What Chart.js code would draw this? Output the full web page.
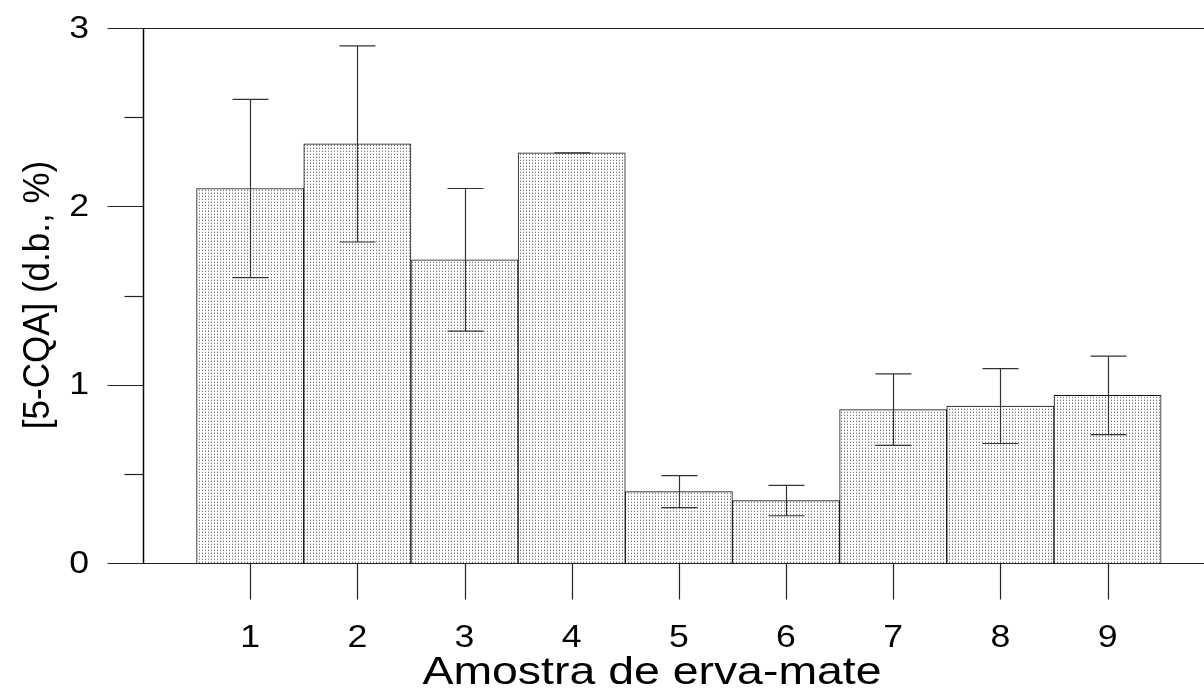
<!DOCTYPE html>
<html>
<head>
<meta charset="utf-8">
<title>5-CQA em erva-mate</title>
<script src="https://cdn.jsdelivr.net/npm/chart.js@4/dist/chart.umd.min.js"></script>
<style>
  html, body { margin: 0; padding: 0; background: #fff; }
  #wrap { width: 1204px; height: 692px; position: relative; }
</style>
</head>
<body>
<div id="wrap"><canvas id="grafico"></canvas></div>
<script>
// amostras e teores de 5-CQA (base seca, %)
const amostras = ['1', '2', '3', '4', '5', '6', '7', '8', '9'];
const teores = [2.10, 2.35, 1.70, 2.30, 0.40, 0.35, 0.86, 0.88, 0.94];
const desvios = [0.50, 0.55, 0.40, 0.00, 0.09, 0.085, 0.20, 0.21, 0.22];
const rotulosY = ['0', '1', '2', '3'];

const FONTE = '"Liberation Sans", Arial, sans-serif';

// padrão pontilhado das barras
function criarPontilhado() {
  const c = document.createElement('canvas');
  c.width = 3; c.height = 3;
  const g = c.getContext('2d');
  g.fillStyle = '#fff';
  g.fillRect(0, 0, 3, 3);
  g.fillStyle = '#777';
  g.fillRect(1, 1, 1, 1);
  g.fillStyle = '#d4d4d4';
  g.fillRect(1, 0, 1, 1);
  return g.createPattern(c, 'repeat');
}

// texto com a fonte um pouco alargada na horizontal
function textoLargo(ctx, txt, cx, cy, esticar) {
  ctx.save();
  ctx.translate(cx, cy);
  ctx.scale(esticar, 1);
  ctx.fillText(txt, 0, 0);
  ctx.restore();
}

// eixos, marcas, rótulos e barras de erro desenhados à mão
const eixosManuais = {
  id: 'eixosManuais',
  afterDatasetsDraw(chart) {
    const ctx = chart.ctx;
    const x = chart.scales.x;
    const y = chart.scales.y;
    const area = chart.chartArea;
    ctx.save();

    // barras de erro
    ctx.strokeStyle = '#333';
    ctx.lineWidth = 1.2;
    teores.forEach((v, i) => {
      const px = Math.round(x.getPixelForValue(i + 1)) + 0.5;
      const yTop = y.getPixelForValue(v + desvios[i]);
      const yBot = y.getPixelForValue(v - desvios[i]);
      ctx.beginPath();
      ctx.moveTo(px, yTop); ctx.lineTo(px, yBot);
      ctx.moveTo(px - 18, yTop); ctx.lineTo(px + 18, yTop);
      ctx.moveTo(px - 18, yBot); ctx.lineTo(px + 18, yBot);
      ctx.stroke();
    });

    // eixo y
    const x0 = Math.round(area.left) + 0.5;
    ctx.strokeStyle = '#000';
    ctx.lineWidth = 1.5;
    ctx.beginPath();
    ctx.moveTo(x0, y.getPixelForValue(3));
    ctx.lineTo(x0, y.getPixelForValue(0));
    ctx.stroke();

    ctx.lineWidth = 1.2;
    ctx.strokeStyle = '#222';
    // marcas do eixo y (0,5 em 0,5); em 0 e 3 a linha segue até a borda
    for (let v = 0; v <= 3; v += 0.5) {
      const py = Math.round(y.getPixelForValue(v)) + 0.5;
      const inteiro = Number.isInteger(v);
      ctx.beginPath();
      ctx.moveTo(inteiro ? x0 - 36 : x0 - 19, py);
      ctx.lineTo(inteiro && (v === 0 || v === 3) ? chart.width : x0, py);
      ctx.stroke();
    }

    // marcas do eixo x
    const y0 = Math.round(y.getPixelForValue(0)) + 0.5;
    amostras.forEach((a, i) => {
      const px = Math.round(x.getPixelForValue(i + 1)) + 0.5;
      ctx.beginPath();
      ctx.moveTo(px, y0); ctx.lineTo(px, y0 + 36);
      ctx.stroke();
    });

    // rótulos
    ctx.fillStyle = '#000';
    ctx.font = '31px ' + FONTE;
    ctx.textAlign = 'right';
    ctx.textBaseline = 'middle';
    rotulosY.forEach((r, i) => {
      textoLargo(ctx, r, 89, y.getPixelForValue(i) + 1, 1.15);
    });
    ctx.textAlign = 'center';
    amostras.forEach((a, i) => {
      textoLargo(ctx, a, x.getPixelForValue(i + 1), 638, 1.15);
    });

    // títulos
    ctx.textBaseline = 'alphabetic';
    ctx.font = '39px ' + FONTE;
    textoLargo(ctx, 'Amostra de erva-mate', 652, 684, 1.19);
    ctx.translate(49, 295);
    ctx.rotate(-Math.PI / 2);
    ctx.font = '35px ' + FONTE;
    ctx.scale(1, 1.08);
    ctx.fillText('[5-CQA] (d.b., %)', 0, 0);
    ctx.restore();
  }
};

new Chart(document.getElementById('grafico'), {
  type: 'bar',
  data: {
    datasets: [{
      data: teores.map((v, i) => ({ x: i + 1, y: v })),
      backgroundColor: criarPontilhado(),
      borderColor: '#111',
      borderWidth: 1,
      categoryPercentage: 1,
      barPercentage: 1
    }]
  },
  options: {
    responsive: true,
    maintainAspectRatio: false,
    animation: false,
    layout: { padding: { left: 143, top: 28, right: 0, bottom: 129 } },
    plugins: { legend: { display: false }, tooltip: { enabled: false } },
    scales: {
      x: {
        type: 'linear', min: 0, max: 9.9, offset: false, display: false,
        // só as posições das amostras entram no cálculo da largura das barras
        afterBuildTicks: s => { s.ticks = amostras.map((a, i) => ({ value: i + 1 })); }
      },
      y: { min: 0, max: 3, display: false }
    }
  },
  plugins: [eixosManuais]
});
</script>
</body>
</html>
